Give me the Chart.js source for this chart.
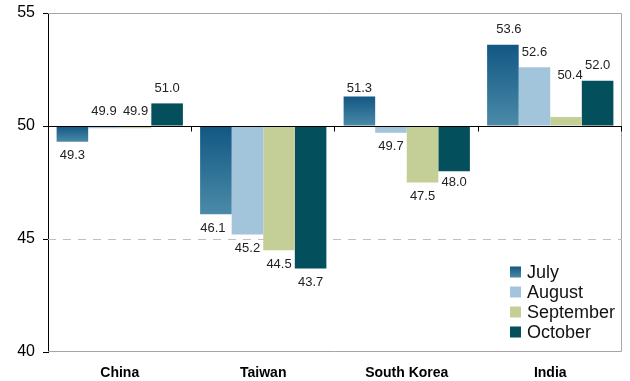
<!DOCTYPE html>
<html lang="en">
<head>
  <meta charset="UTF-8">
  <title>PMI by month</title>
  <script src="https://cdn.jsdelivr.net/npm/chart.js@4.4.0/dist/chart.umd.min.js"></script>
  <style>
    body { margin: 0; background: #fff; }
    #wrap { width: 630px; height: 381px; }
  </style>
</head>
<body>
  <div id="wrap"><canvas id="chart" width="630" height="381"></canvas></div>
  <script>
    const categories = ['China', 'Taiwan', 'South Korea', 'India'];
    const months = ['July', 'August', 'September', 'October'];
    const july = [49.3, 46.1, 51.3, 53.6];
    const august = [49.9, 45.2, 49.7, 52.6];
    const september = [49.9, 44.5, 47.5, 50.4];
    const october = [51.0, 43.7, 48.0, 52.0];
    const yTicks = [40, 45, 50, 55];

    const BASE = 50;
    const julyTop = '#125784', julyBottom = '#4b8ba8';
    const colors = [null, '#a3c5dc', '#c4cf98', '#034f5b'];

    // labels that sit above the 50 line even though the bar dips just under it
    const labelAbove = { '0-1': true, '0-2': true };
    // hand-placed labels [dx, dy]
    const labelNudge = { '2-0': [0, 7], '3-0': [6, 0], '3-2': [4, -27], '2-3': [0, -3], '1-0': [-3, 0] };

    function julyFill(ctx) {
      const chart = ctx.chart;
      if (!chart.chartArea || !ctx.parsed) return julyTop;
      const y = chart.scales.y;
      const a = y.getPixelForValue(BASE), b = y.getPixelForValue(ctx.parsed.y);
      const g = chart.ctx.createLinearGradient(0, Math.min(a, b), 0, Math.max(a, b) + 0.01);
      g.addColorStop(0, julyTop);
      g.addColorStop(1, julyBottom);
      return g;
    }

    const frame = {
      id: 'frame',
      beforeDatasetsDraw(chart) {
        const { ctx, chartArea: a, scales: { y } } = chart;
        ctx.save();
        ctx.strokeStyle = '#a6a6a6';
        ctx.lineWidth = 1;
        ctx.beginPath();
        ctx.moveTo(a.left, a.top + 0.5); ctx.lineTo(a.right - 0.5, a.top + 0.5);
        ctx.lineTo(a.right - 0.5, a.bottom - 0.5); ctx.lineTo(a.left, a.bottom - 0.5);
        ctx.stroke();
        const y45 = Math.round(y.getPixelForValue(45)) + 0.5;
        ctx.strokeStyle = '#bfbfbf';
        ctx.setLineDash([8, 7]);
        ctx.beginPath();
        ctx.moveTo(a.left, y45); ctx.lineTo(a.right, y45);
        ctx.stroke();
        ctx.restore();
      },
      afterDatasetsDraw(chart) {
        const { ctx, chartArea: a, scales: { x, y } } = chart;
        const y50 = Math.round(y.getPixelForValue(BASE)) + 0.5;
        ctx.save();
        ctx.strokeStyle = '#000';
        ctx.lineWidth = 1;
        ctx.beginPath();
        ctx.moveTo(a.left, y50); ctx.lineTo(a.right, y50);
        const step = (a.right - a.left) / categories.length;
        for (let i = 1; i <= categories.length; i++) {
          const px = Math.round(a.left + i * step) - 0.5;
          ctx.moveTo(px, y50); ctx.lineTo(px, y50 + 5);
        }
        ctx.stroke();

        // value labels
        ctx.font = '13px "Liberation Sans", Arial, sans-serif';
        ctx.fillStyle = '#222';
        ctx.textAlign = 'center';
        ctx.textBaseline = 'middle';
        chart.data.datasets.forEach((ds, di) => {
          chart.getDatasetMeta(di).data.forEach((el, i) => {
            const v = ds.data[i];
            const key = i + '-' + di;
            const top = Math.min(el.y, el.base), bottom = Math.max(el.y, el.base);
            const above = v >= BASE || labelAbove[key];
            const [dx, dy] = labelNudge[key] || [0, 0];
            const ly = above ? top - 15 : bottom + 14;
            ctx.fillText(v.toFixed(1), el.x + dx, ly + dy);
          });
        });

        // legend
        const lx = 510, ly0 = 272;
        ctx.font = '18px "Liberation Sans", Arial, sans-serif';
        ctx.textAlign = 'left';
        months.forEach((m, k) => {
          const cy = ly0 + k * 20;
          if (k === 0) {
            const g = ctx.createLinearGradient(0, cy - 5.5, 0, cy + 5.5);
            g.addColorStop(0, julyTop); g.addColorStop(1, julyBottom);
            ctx.fillStyle = g;
          } else {
            ctx.fillStyle = colors[k];
          }
          ctx.fillRect(lx, cy - 5.5, 11, 11);
          ctx.fillStyle = '#111';
          ctx.fillText(m, lx + 17, cy + 1);
        });
        ctx.restore();
      }
    };

    const series = [july, august, september, october];
    new Chart(document.getElementById('chart'), {
      type: 'bar',
      data: {
        labels: categories,
        datasets: series.map((d, k) => ({
          label: months[k],
          data: d,
          base: BASE,
          backgroundColor: k === 0 ? julyFill : colors[k],
          borderWidth: 0,
          categoryPercentage: 0.88,
          barPercentage: 1
        }))
      },
      options: {
        responsive: false,
        animation: false,
        layout: { padding: { left: 17, right: 8, top: 0, bottom: 0 } },
        plugins: { legend: { display: false }, tooltip: { enabled: false } },
        scales: {
          x: {
            grid: { display: false, drawTicks: false },
            border: { display: false },
            afterFit: s => { s.height = 29; },
            ticks: {
              padding: 13,
              color: '#000',
              font: { family: '"Liberation Sans", Arial, sans-serif', size: 14, weight: 'bold' }
            }
          },
          y: {
            min: 40,
            max: 55,
            afterBuildTicks: s => { s.ticks = yTicks.map(v => ({ value: v })); },
            afterFit: s => { s.width = 31; s.paddingTop = 13; s.paddingBottom = 0; },
            grid: { drawOnChartArea: false, drawTicks: true, tickLength: 5, color: '#000' },
            border: { display: true, color: '#000', width: 1 },
            ticks: {
              padding: 8,
              color: '#000',
              font: { family: '"Liberation Sans", Arial, sans-serif', size: 16 }
            }
          }
        }
      },
      plugins: [frame]
    });
  </script>
</body>
</html>
